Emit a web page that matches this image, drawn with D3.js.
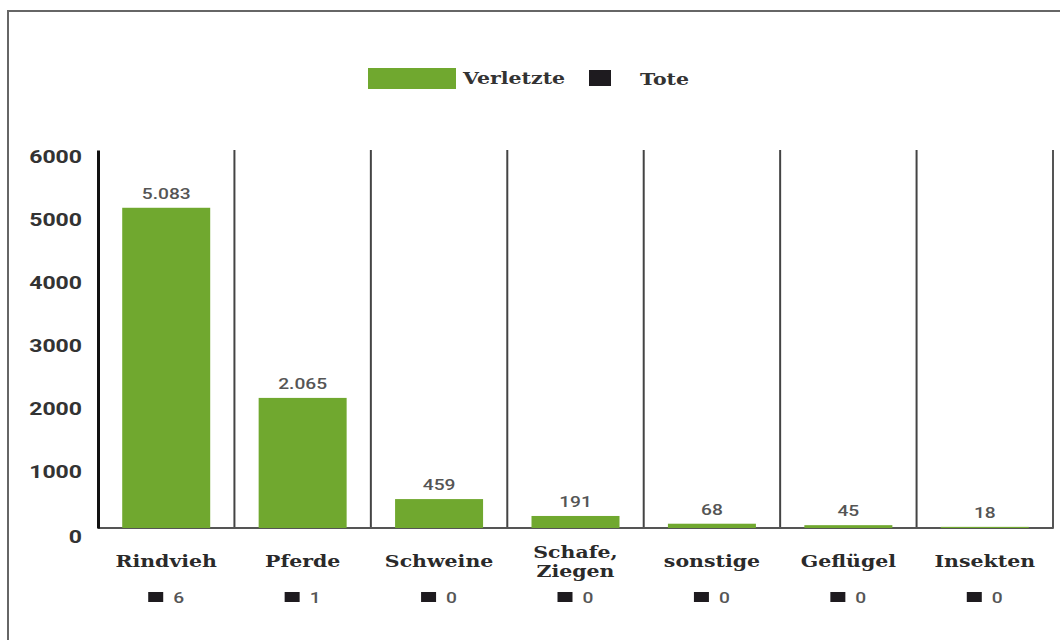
<!DOCTYPE html>
<html>
<head>
<meta charset="utf-8">
<script src="https://cdn.jsdelivr.net/npm/d3@7"></script>
<style>
  body { margin: 0; background: #fff; }
  svg { display: block; }
</style>
</head>
<body>
<svg id="chart" width="1060" height="640"></svg>
<script>
const categories = ["Rindvieh", "Pferde", "Schweine", "Schafe, Ziegen", "sonstige", "Geflügel", "Insekten"]
const verletzte = [5083, 2065, 459, 191, 68, 45, 18]
const tote = [6, 1, 0, 0, 0, 0, 0]
const yTicks = [0, 1000, 2000, 3000, 4000, 5000, 6000]
const legendLabels = ["Verletzte", "Tote"]

const GREEN = "#70a82f",
    DARK = "#1e1b1f",
    SX = 1.28,                // the reference text is drawn a bit wider than the fonts
    SANS = "Roboto, 'Liberation Sans', sans-serif",
    SERIF = "'DejaVu Serif', 'Liberation Serif', serif"

const de = d3.formatLocale({decimal: ",", thousands: ".", grouping: [3], currency: ["", " €"]})
const fmt = de.format(",d")

const svg = d3.select("#chart")

const x = d3.scaleBand()
    .domain(categories)
    .range([98, 1053])
    .paddingInner(0.355)
    .paddingOuter(0.1775)

const y = d3.scaleLinear()
    .domain([0, 6000])
    .range([528, 150])

const stretch = (px, py) => `translate(${px}, ${py}) scale(${SX}, 1)`

// frame
svg.append("path")
    .attr("d", "M8,640 V11 H1060")
    .attr("fill", "none")
    .attr("stroke", "#666")
    .attr("stroke-width", 2)

// legend
const legend = svg.append("g")
legend.append("rect")
    .attr("x", 368).attr("y", 68)
    .attr("width", 88).attr("height", 21)
    .attr("fill", GREEN)
legend.append("text")
    .text(legendLabels[0])
    .attr("transform", stretch(463, 84))
    .style("font-family", SERIF)
    .style("font-weight", "bold")
    .style("font-size", "16px")
    .style("fill", "#333")
legend.append("rect")
    .attr("x", 589).attr("y", 70)
    .attr("width", 22).attr("height", 16)
    .attr("fill", DARK)
legend.append("text")
    .text(legendLabels[1])
    .attr("transform", stretch(640, 85))
    .style("font-family", SERIF)
    .style("font-weight", "bold")
    .style("font-size", "16px")
    .style("fill", "#333")

// column dividers
const step = x.step(),
    x0 = x.range()[0]
svg.append("g")
    .selectAll("line")
    .data(categories.slice(0, -1))
    .join("line")
    .attr("x1", d => x(d) + x.bandwidth() / 2 + step / 2)
    .attr("x2", d => x(d) + x.bandwidth() / 2 + step / 2)
    .attr("y1", y(6000))
    .attr("y2", y(0))
    .attr("stroke", "#444")
    .attr("stroke-width", 2)

// baseline + last divider
svg.append("path")
    .attr("d", `M${x0},${y(0)} H${x.range()[1]} V${y(6000)}`)
    .attr("fill", "none")
    .attr("stroke", "#555")
    .attr("stroke-width", 2)
    .attr("stroke-linejoin", "round")

// y axis
const yAxis = svg.append("g")
    .attr("transform", `translate(${x0}, 0)`)
    .call(d3.axisLeft(y).tickValues(yTicks).tickFormat(d3.format("d")).tickSize(0).tickPadding(16))

yAxis.select(".domain")
    .attr("stroke", "#111")
    .attr("stroke-width", 3)
yAxis.selectAll(".tick text")
    .attr("x", 0)
    .attr("dy", null)
    .attr("transform", d => stretch(-16, d === 0 ? 14 : 12))
    .style("font-family", SANS)
    .style("font-weight", "bold")
    .style("font-size", "18px")
    .style("fill", "#333")

// bars
svg.append("g")
    .selectAll("rect")
    .data(categories)
    .join("rect")
    .attr("x", d => x(d))
    .attr("y", (d, i) => y(verletzte[i]))
    .attr("width", x.bandwidth())
    .attr("height", (d, i) => y(0) - y(verletzte[i]))
    .attr("fill", GREEN)

// value labels
svg.append("g")
    .selectAll("text")
    .data(categories)
    .join("text")
    .text((d, i) => fmt(verletzte[i]))
    .attr("text-anchor", "middle")
    .attr("transform", (d, i) => stretch(x(d) + x.bandwidth() / 2, y(verletzte[i]) - 9))
    .style("font-family", SANS)
    .style("font-weight", 500)
    .style("font-size", "15px")
    .style("fill", "#555")

// category labels (split after the comma)
svg.append("g")
    .selectAll("text")
    .data(categories)
    .join("text")
    .attr("text-anchor", "middle")
    .attr("transform", d => {
        const lines = d.split(/(?<=,) /)
        return stretch(x(d) + x.bandwidth() / 2, lines.length > 1 ? 558 : 567)
    })
    .style("font-family", SERIF)
    .style("font-weight", "bold")
    .style("font-size", "16px")
    .style("fill", "#2a2a2a")
    .selectAll("tspan")
    .data(d => d.split(/(?<=,) /))
    .join("tspan")
    .attr("x", 0)
    .attr("dy", (d, i) => i ? 19 : 0)
    .text(d => d)

// deaths under each category
const toteGroup = svg.append("g")
    .selectAll("g")
    .data(categories)
    .join("g")
    .attr("transform", d => `translate(${x(d) + x.bandwidth() / 2}, 597)`)

toteGroup.append("rect")
    .attr("x", -18).attr("y", -5)
    .attr("width", 15).attr("height", 10)
    .attr("fill", DARK)

toteGroup.append("text")
    .text((d, i) => tote[i])
    .attr("transform", stretch(7, 5.5))
    .style("font-family", SANS)
    .style("font-weight", 500)
    .style("font-size", "15px")
    .style("fill", "#555")
</script>
</body>
</html>
